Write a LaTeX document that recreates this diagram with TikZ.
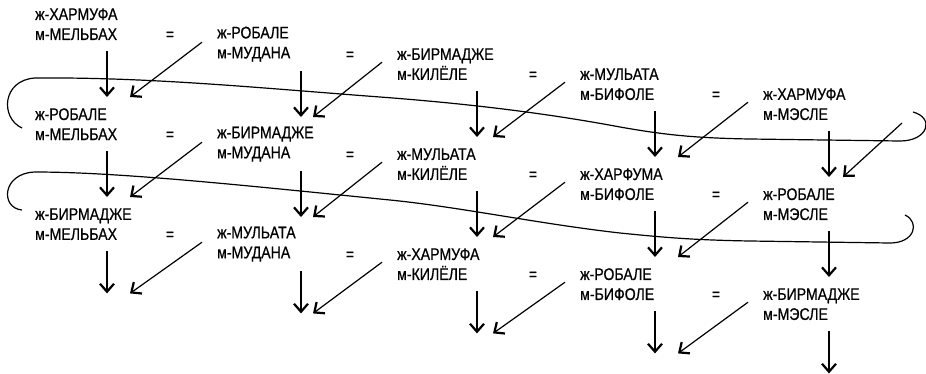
\documentclass[tikz,border=0pt]{standalone}
\usepackage{fontspec}
\setmainfont{Liberation Sans}[FakeStretch=0.84,FakeBold=0.6]
\usetikzlibrary{arrows.meta,positioning,calc}

\begin{document}
\begin{tikzpicture}[% styles for the whole table, override case by case
		x=1pt,y=1pt,
		every node/.style={
			font=\fontsize{16.8}{20}\selectfont,
			inner sep=0pt
		},
		pair/.style={
			align=left,		% so that "\\" splits the pair in two lines
			text width=100pt,
			minimum height=54pt	% room above and below the names for the arrows
		},
		eqsign/.style={anchor=base},
		wrap/.style={draw,line width=1.2pt},
		>={Straight Barb[length=8pt,width=14pt,line width=2.2pt]},
		every edge/.style={draw,line width=1.2pt}
	]
	\useasboundingbox (0,0) rectangle (926,-373);
	% first round
	\node[pair,anchor=north west] (R11) at (35,3) {ж-ХАРМУФА\\м-МЕЛЬБАХ};
	\node[pair,below right=20pt and 182pt of R11.north west] (R12) {ж-РОБАЛЕ\\м-МУДАНА};
	\node[pair,below right=20pt and 180pt of R12.north west] (R13) {ж-БИРМАДЖЕ\\м-КИЛЁЛЕ};
	\node[pair,below right=20pt and 183pt of R13.north west] (R14) {ж-МУЛЬАТА\\м-БИФОЛЕ};
	\node[pair,below right=20pt and 183pt of R14.north west] (R15) {ж-ХАРМУФА\\м-МЭСЛЕ};
	% second round
	\node[pair,below=100pt of R11.north west,anchor=north west] (R21) {ж-РОБАЛЕ\\м-МЕЛЬБАХ};
	\node[pair,below=100pt of R12.north west,anchor=north west] (R22) {ж-БИРМАДЖЕ\\м-МУДАНА};
	\node[pair,below=100pt of R13.north west,anchor=north west] (R23) {ж-МУЛЬАТА\\м-КИЛЁЛЕ};
	\node[pair,below=100pt of R14.north west,anchor=north west] (R24) {ж-ХАРФУМА\\м-БИФОЛЕ};
	\node[pair,below=100pt of R15.north west,anchor=north west] (R25) {ж-РОБАЛЕ\\м-МЭСЛЕ};
	% third round
	\node[pair,below=100pt of R21.north west,anchor=north west] (R31) {ж-БИРМАДЖЕ\\м-МЕЛЬБАХ};
	\node[pair,below=100pt of R22.north west,anchor=north west] (R32) {ж-МУЛЬАТА\\м-МУДАНА};
	\node[pair,below=100pt of R23.north west,anchor=north west] (R33) {ж-ХАРМУФА\\м-КИЛЁЛЕ};
	\node[pair,below=100pt of R24.north west,anchor=north west] (R34) {ж-РОБАЛЕ\\м-БИФОЛЕ};
	\node[pair,below=100pt of R25.north west,anchor=north west] (R35) {ж-БИРМАДЖЕ\\м-МЭСЛЕ};
	% equal signs
	\node[below left=23pt and 47pt of R12.north west,eqsign] (E12) {=};
	\node[below left=23pt and 47pt of R13.north west,eqsign] (E13) {=};
	\node[below left=23pt and 47pt of R14.north west,eqsign] (E14) {=};
	\node[below left=23pt and 47pt of R15.north west,eqsign] (E15) {=};
	\node[below left=23pt and 47pt of R22.north west,eqsign] (E22) {=};
	\node[below left=23pt and 47pt of R23.north west,eqsign] (E23) {=};
	\node[below left=23pt and 47pt of R24.north west,eqsign] (E24) {=};
	\node[below left=23pt and 47pt of R25.north west,eqsign] (E25) {=};
	\node[below left=23pt and 47pt of R32.north west,eqsign] (E32) {=};
	\node[below left=23pt and 47pt of R33.north west,eqsign] (E33) {=};
	\node[below left=23pt and 47pt of R34.north west,eqsign] (E34) {=};
	\node[below left=23pt and 47pt of R35.north west,eqsign] (E35) {=};
	% columns of the down arrows (A) and of the slanted arrow tips (B)
	\coordinate (A1) at (107,0);
	\coordinate (A2) at (301,0);
	\coordinate (A3) at (477,0);
	\coordinate (A4) at (655,0);
	\coordinate (A5) at (829,0);
	\coordinate (B1) at (130,0);
	\coordinate (B2) at (313,0);
	\coordinate (B3) at (493,0);
	\coordinate (B4) at (678,0);
	\coordinate (B5) at (843,0);
	\coordinate (W5) at (902,-123);
	\coordinate (D1) at ($(R31.south)+(0,-42)$);
	\coordinate (D2) at ($(R32.south)+(0,-42)$);
	\coordinate (D3) at ($(R33.south)+(0,-42)$);
	\coordinate (D4) at ($(R34.south)+(0,-42)$);
	\coordinate (D5) at ($(R35.south)+(0,-42)$);
	% wrap-around lines
	\draw[wrap] (22,-128) .. controls (0,-118) and (2,-80) .. (35,-78)
		.. controls (150,-77) and (260,-88) .. (380,-97)
		.. controls (460,-103) and (540,-112) .. (620,-127)
		.. controls (660,-134) and (690,-138) .. (750,-139)
		-- (900,-141)
		.. controls (928,-141) and (935,-118) .. (913,-112);
	\draw[wrap] (22,-210) .. controls (0,-208) and (2,-173) .. (35,-172)
		.. controls (120,-172) and (250,-186) .. (390,-200)
		.. controls (460,-207) and (540,-224) .. (620,-233)
		.. controls (660,-237) and (690,-240) .. (750,-241)
		-- (890,-243)
		.. controls (915,-243) and (920,-222) .. (905,-215);
	\path[->]
	(R11.south -| A1) edge (R21.north -| A1)
	(R12.south -| A2) edge (R22.north -| A2)
	(R13.south -| A3) edge (R23.north -| A3)
	(R14.south -| A4) edge (R24.north -| A4)
	(R15.south -| A5) edge (R25.north -| A5)
	(R21.south -| A1) edge (R31.north -| A1)
	(R22.south -| A2) edge (R32.north -| A2)
	(R23.south -| A3) edge (R33.north -| A3)
	(R24.south -| A4) edge (R34.north -| A4)
	(R25.south -| A5) edge (R35.north -| A5)
	(R31.south -| A1) edge (D1 -| A1)
	(R32.south -| A2) edge (D2 -| A2)
	(R33.south -| A3) edge (D3 -| A3)
	(R34.south -| A4) edge (D4 -| A4)
	(R35.south -| A5) edge (D5 -| A5)
	($(R12.west)+(-15,2)$) edge (R21.north -| B1)
	($(R13.west)+(-15,2)$) edge (R22.north -| B2)
	($(R14.west)+(-15,2)$) edge (R23.north -| B3)
	($(R15.west)+(-15,2)$) edge (R24.north -| B4)
	(W5) edge (R25.north -| B5)
	($(R22.west)+(-15,2)$) edge (R31.north -| B1)
	($(R23.west)+(-15,2)$) edge (R32.north -| B2)
	($(R24.west)+(-15,2)$) edge (R33.north -| B3)
	($(R25.west)+(-15,2)$) edge (R34.north -| B4)
	($(R32.west)+(-15,2)$) edge (D1 -| B1)
	($(R33.west)+(-15,2)$) edge (D2 -| B2)
	($(R34.west)+(-15,2)$) edge (D3 -| B3)
	($(R35.west)+(-15,2)$) edge (D4 -| B4)
	;
\end{tikzpicture}
\end{document}
